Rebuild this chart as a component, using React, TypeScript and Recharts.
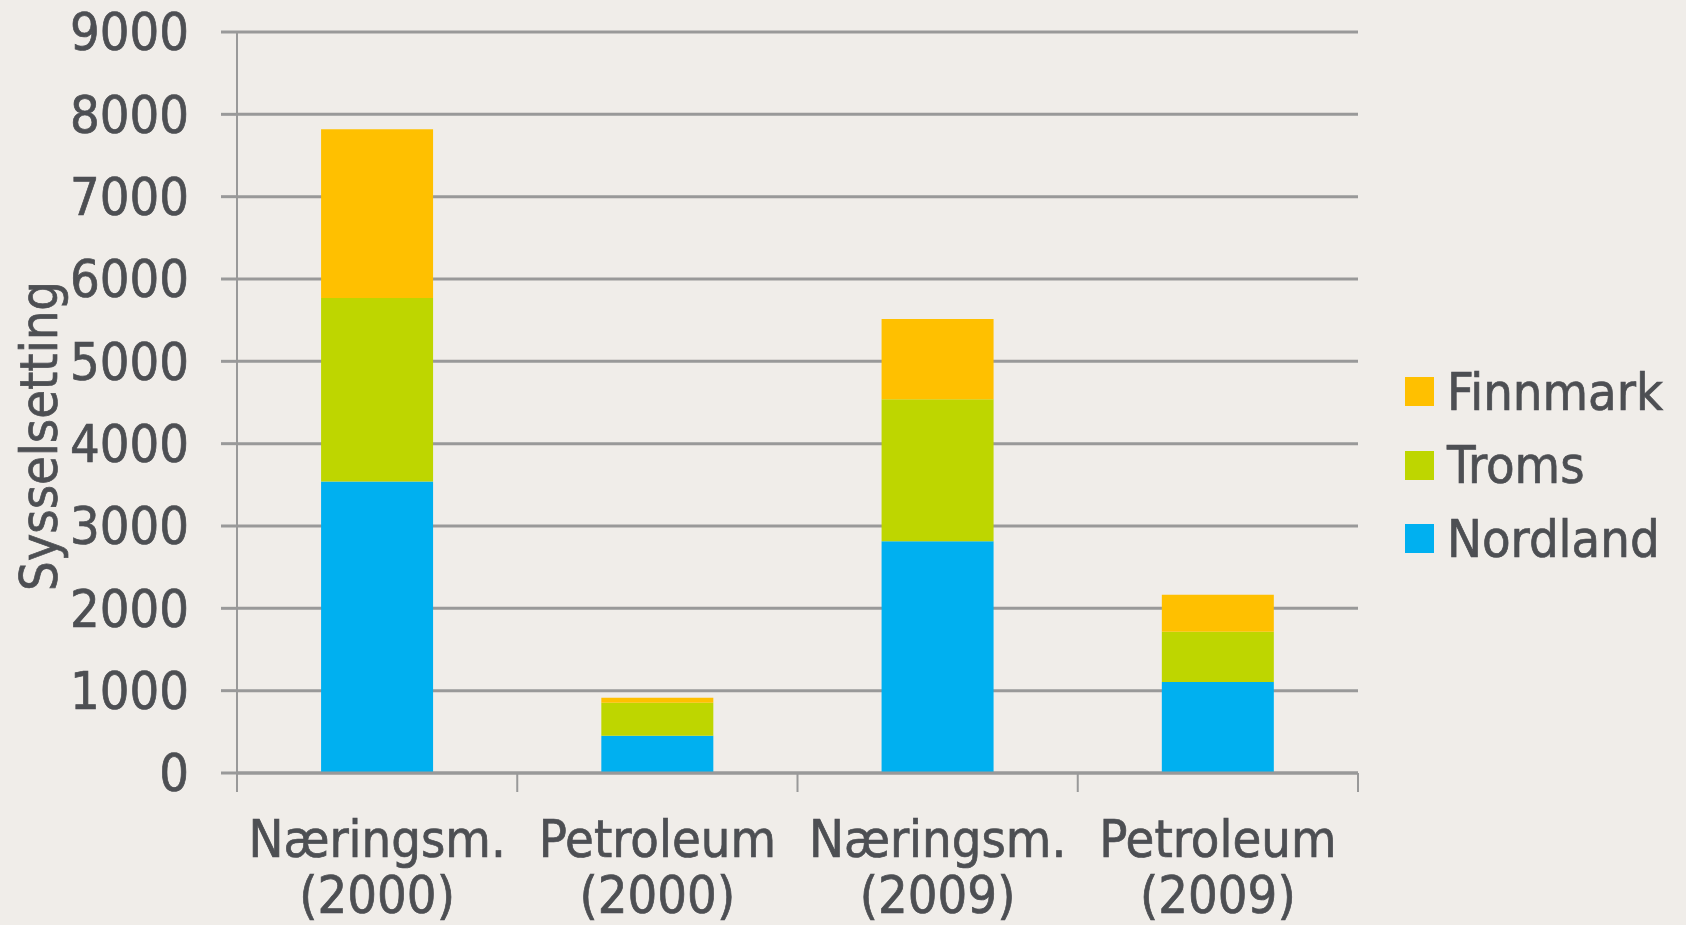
import { BarChart, Bar, XAxis, YAxis, CartesianGrid, Legend } from "recharts"

const categories = ["Næringsm.", "Petroleum", "Næringsm.", "Petroleum"]
const years = ["(2000)", "(2000)", "(2009)", "(2009)"]
const nordland = [3540, 453, 2815, 1105]
const troms = [2230, 400, 1725, 610]
const finnmark = [2050, 60, 975, 450]
const yTicks = [0, 1000, 2000, 3000, 4000, 5000, 6000, 7000, 8000, 9000]
const legendOrder = ["Finnmark", "Troms", "Nordland"]

const data = categories.map((name, i) => ({
  name,
  year: years[i],
  Nordland: nordland[i],
  Troms: troms[i],
  Finnmark: finnmark[i],
}))

const W = 1686
const H = 925
const PLOT_LEFT = 237
const PLOT_RIGHT = 1358
const PLOT_TOP = 32
const PLOT_BOTTOM = 773
const HALF_BAND = (PLOT_RIGHT - PLOT_LEFT) / categories.length / 2

const FONT = "'DejaVu Sans Condensed', 'DejaVu Sans', sans-serif"
const TEXT = "#4d4f53"
const GRID = "#999999"
const BG = "#f0ede9"

function XTick(props: any) {
  const { x, y, payload, index } = props
  const row = data[index] || { name: payload.value, year: "" }
  return (
    <g>
      <line x1={x - HALF_BAND} x2={x - HALF_BAND} y1={y} y2={y + 19} stroke={GRID} strokeWidth={2} />
      {index === categories.length - 1 && (
        <line x1={x + HALF_BAND} x2={x + HALF_BAND} y1={y} y2={y + 19} stroke={GRID} strokeWidth={2} />
      )}
      <text x={x} y={y + 84} textAnchor="middle" fill={TEXT} stroke={TEXT} strokeWidth={0.7} fontSize={52} fontFamily={FONT}>
        {row.name}
      </text>
      <text x={x} y={y + 140} textAnchor="middle" fill={TEXT} stroke={TEXT} strokeWidth={0.7} fontSize={52} fontFamily={FONT}>
        {row.year}
      </text>
    </g>
  )
}

function LegendBox({ payload }: any) {
  const items = legendOrder
    .map((name) => (payload || []).find((p: any) => p.value === name || p.dataKey === name))
    .filter(Boolean)
  return (
    <div style={{ fontFamily: FONT, fontSize: 52, color: TEXT, WebkitTextStroke: "0.7px " + TEXT }}>
      {items.map((it: any) => (
        <div key={it.value} style={{ display: "flex", alignItems: "center", height: 73.5, whiteSpace: "nowrap" }}>
          <span style={{ width: 29, height: 29, background: it.color, display: "inline-block", marginRight: 13 }} />
          <span style={{ lineHeight: 1 }}>{it.value}</span>
        </div>
      ))}
    </div>
  )
}

export default function App() {
  return (
    <div style={{ position: "absolute", left: 0, top: 0, width: W, height: H, background: BG }}>
      <BarChart
        width={W}
        height={H}
        data={data}
        margin={{ top: PLOT_TOP, right: W - PLOT_RIGHT, bottom: 0, left: 0 }}
        barCategoryGap="30%"
      >
        <CartesianGrid vertical={false} stroke={GRID} strokeWidth={3} />
        <XAxis
          dataKey="name"
          height={H - PLOT_BOTTOM}
          axisLine={{ stroke: GRID, strokeWidth: 3 }}
          tickLine={false}
          tickSize={0}
          tickMargin={0}
          interval={0}
          tick={<XTick />}
        />
        <YAxis
          width={PLOT_LEFT}
          domain={[0, 9000]}
          ticks={yTicks}
          interval={0}
          axisLine={{ stroke: GRID, strokeWidth: 2 }}
          tickLine={{ stroke: GRID, strokeWidth: 3 }}
          tickSize={16}
          tickMargin={32}
          tick={{ fill: TEXT, stroke: TEXT, strokeWidth: 0.7, fontSize: 52, fontFamily: FONT }}
          label={{
            content: () => (
              <text
                transform="translate(57,436) rotate(-90)"
                textAnchor="middle"
                fill={TEXT}
                stroke={TEXT}
                strokeWidth={0.7}
                fontSize={52}
                fontFamily={FONT}
              >
                Sysselsetting
              </text>
            ),
          }}
        />
        <Legend
          layout="horizontal"
          verticalAlign="middle"
          align="center"
          wrapperStyle={{ left: 1405, top: 355, width: 281, height: 230 }}
          content={<LegendBox />}
        />
        <Bar dataKey="Nordland" stackId="a" fill="#00b0f0" isAnimationActive={false} />
        <Bar dataKey="Troms" stackId="a" fill="#bed600" isAnimationActive={false} />
        <Bar dataKey="Finnmark" stackId="a" fill="#ffc000" isAnimationActive={false} />
      </BarChart>
    </div>
  )
}
